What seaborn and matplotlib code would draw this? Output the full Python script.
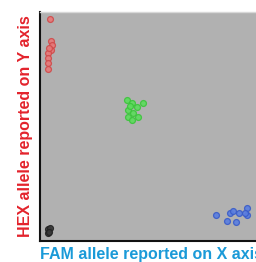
import pandas as pd
import matplotlib.pyplot as plt
import seaborn as sns

# ---- data (arbitrary fluorescence units) ----
hex_x = [10, 11, 12, 11, 8, 8, 8, 8, 9]
hex_y = [222, 200, 196, 191, 188, 183, 178, 172, 193]

het_x = [87, 92, 103, 97, 88, 93, 88, 98, 92, 90]
het_y = [141, 138, 138, 134, 131, 128, 124, 124, 121, 135]

fam_x = [176, 187, 190, 193, 196, 199, 207, 207, 205]
fam_y = [26, 20, 28, 30, 19, 28, 33, 26, 28]

ntc_x = [8, 10, 8, 9]
ntc_y = [12, 13, 8, 9]

groups = ['HEX'] * len(hex_x) + ['HET'] * len(het_x) + ['FAM'] * len(fam_x) + ['NTC'] * len(ntc_x)
df = pd.DataFrame({
    'fam': hex_x + het_x + fam_x + ntc_x,
    'hex': hex_y + het_y + fam_y + ntc_y,
    'group': groups,
})

palette = {'HEX': '#e87878', 'HET': '#5cdc5c', 'FAM': '#5a7ee0', 'NTC': '#3a3a3a'}
edges = {'HEX': '#d04a4a', 'HET': '#3cc43c', 'FAM': '#3a5cc8', 'NTC': '#222222'}

sns.set_style('white')
plt.rcParams['font.family'] = ['Liberation Sans', 'DejaVu Sans']

fig = plt.figure(figsize=(2.56, 2.62), dpi=100)
ax = fig.add_axes([40 / 256, 21 / 262, 1 - 40 / 256, 229 / 262])
ax.set_facecolor('#b1b1b1')

for g, sub in df.groupby('group'):
    sns.scatterplot(data=sub, x='fam', y='hex', ax=ax, color=palette[g],
                    edgecolor=edges[g], linewidth=0.9, s=18, alpha=0.9, legend=False)

ax.set_xlim(0, 216)
ax.set_ylim(0, 229)
ax.set_xticks([])
ax.set_yticks([])

ax.spines['right'].set_visible(False)
ax.spines['top'].set_color('#d8d8d8')
ax.spines['top'].set_linewidth(1.0)
ax.spines['left'].set_color('#111111')
ax.spines['bottom'].set_color('#111111')
ax.spines['left'].set_linewidth(1.5)
ax.spines['bottom'].set_linewidth(1.5)

ax.set_xlabel('FAM allele reported on X axis', fontsize=11.5, fontweight='bold',
              color='#1a9ad8', loc='left', labelpad=4.5)
ax.set_ylabel('HEX allele reported on Y axis', fontsize=11.5, fontweight='bold',
              color='#e3232c', labelpad=5)

plt.savefig('out.png', dpi=100)
